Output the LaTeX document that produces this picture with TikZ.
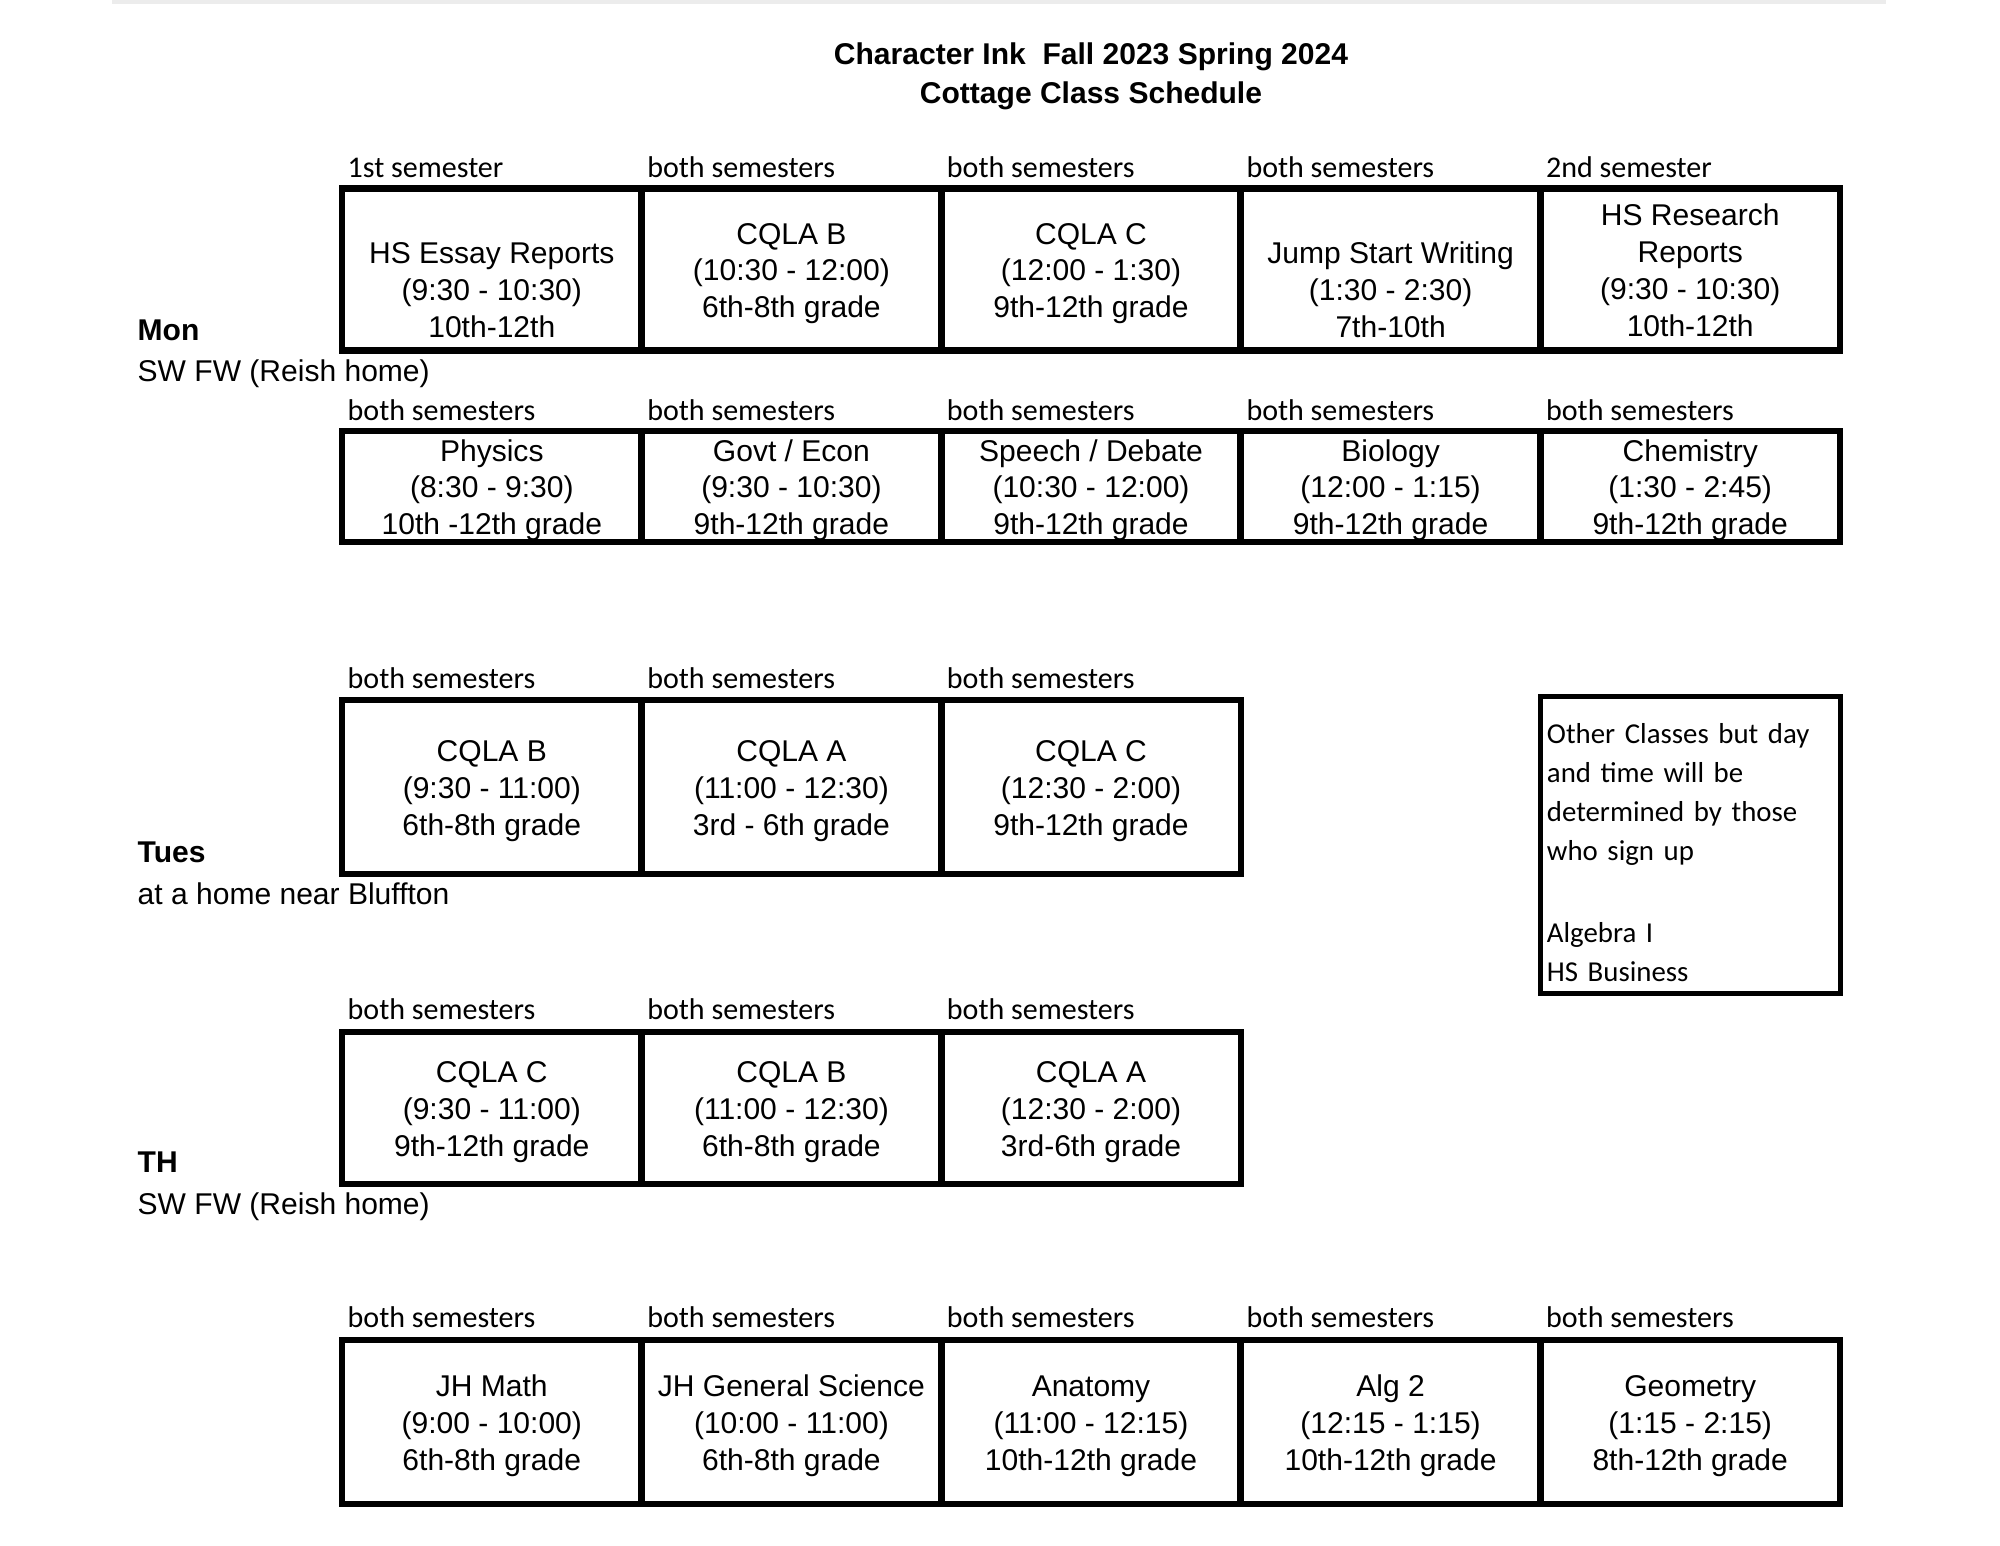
\documentclass[tikz,border=0pt]{standalone}
\usepackage{fontspec}
\setmainfont{Liberation Sans}
\newfontfamily\calib{Carlito}
\newcommand{\classtext}[3]{\rule{0pt}{8.3pt}#1\\#2\\#3}

\begin{document}
\begin{tikzpicture}[x=0.01cm,y=-0.01cm,
  cell/.style={draw=black,line width=1.85pt,rectangle,minimum width=2.996cm,inner sep=0pt,align=center,font=\fontsize{8.54}{10.5}\selectfont},
  rowa/.style={cell,minimum height=1.62cm},
  rowb/.style={cell,minimum height=1.11cm},
  rowtue/.style={cell,minimum height=1.74cm},
  rowthu/.style={cell,minimum height=1.52cm},
  rowext/.style={cell,minimum height=1.64cm},
  sem/.style={anchor=base west,inner sep=0pt,font=\calib\fontsize{8.54}{10.5}\selectfont},
  day/.style={anchor=base west,inner sep=0pt,font=\bfseries\fontsize{8.54}{10.5}\selectfont},
  place/.style={anchor=base west,inner sep=0pt,font=\fontsize{8.54}{10.5}\selectfont},
  heading/.style={anchor=base,inner sep=0pt,font=\bfseries\fontsize{8.54}{10.5}\selectfont}]
\useasboundingbox (0,0) rectangle (2000,1545);
\draw[gray!15,line width=1.4pt] (112,2) -- (1886,2);

\node[heading] (title1) at (1091,64) {Character Ink\ \ Fall 2023 Spring 2024};
\node[heading] (title2) at (1091,103) {Cottage Class Schedule};

\node[day] (mon) at (137,340) {Mon};
\node[place] (monplace) at (137,381) {SW FW (Reish home)};
\node[day] (tue) at (137,862) {Tues};
\node[place] (tueplace) at (137,904) {at a home near Bluffton};
\node[day] (thu) at (137,1172) {TH};
\node[place] (thuplace) at (137,1214) {SW FW (Reish home)};

\node[sem] (sema1) at (347,177) {1st semester};
\node[sem] (sema2) at (646.6,177) {both semesters};
\node[sem] (sema3) at (946.2,177) {both semesters};
\node[sem] (sema4) at (1245.8,177) {both semesters};
\node[sem] (sema5) at (1545.4,177) {2nd semester};
\node[rowa] (mona1) at (491.8,269.5) {\strut\\HS Essay Reports\\(9:30 - 10:30)\\10th-12th};
\node[rowa] (mona2) at (791.4,269.5) {\classtext{CQLA B}{(10:30 - 12:00)}{6th-8th grade}};
\node[rowa] (mona3) at (1091,269.5) {\classtext{CQLA C}{(12:00 - 1:30)}{9th-12th grade}};
\node[rowa] (mona4) at (1390.6,269.5) {\strut\\Jump Start Writing\\(1:30 - 2:30)\\7th-10th};
\node[rowa] (mona5) at (1690.2,269.5) {\rule{0pt}{6.8pt}HS Research\\Reports\\(9:30 - 10:30)\\10th-12th};

\node[sem] (semb1) at (347,420) {both semesters};
\node[sem] (semb2) at (646.6,420) {both semesters};
\node[sem] (semb3) at (946.2,420) {both semesters};
\node[sem] (semb4) at (1245.8,420) {both semesters};
\node[sem] (semb5) at (1545.4,420) {both semesters};
\node[rowb] (monb1) at (491.8,486.5) {\classtext{Physics}{(8:30 - 9:30)}{10th -12th grade}};
\node[rowb] (monb2) at (791.4,486.5) {\classtext{Govt / Econ}{(9:30 - 10:30)}{9th-12th grade}};
\node[rowb] (monb3) at (1091,486.5) {\classtext{Speech / Debate}{(10:30 - 12:00)}{9th-12th grade}};
\node[rowb] (monb4) at (1390.6,486.5) {\classtext{Biology}{(12:00 - 1:15)}{9th-12th grade}};
\node[rowb] (monb5) at (1690.2,486.5) {\classtext{Chemistry}{(1:30 - 2:45)}{9th-12th grade}};

\node[sem] (semt1) at (347,688) {both semesters};
\node[sem] (semt2) at (646.6,688) {both semesters};
\node[sem] (semt3) at (946.2,688) {both semesters};
\node[rowtue] (tue1) at (491.8,787) {\classtext{CQLA B}{(9:30 - 11:00)}{6th-8th grade}};
\node[rowtue] (tue2) at (791.4,787) {\classtext{CQLA A}{(11:00 - 12:30)}{3rd - 6th grade}};
\node[rowtue] (tue3) at (1091,787) {\classtext{CQLA C}{(12:30 - 2:00)}{9th-12th grade}};

\node[draw=black,line width=1.42pt,rectangle,minimum height=2.92cm,inner xsep=0.6mm,text width=2.87cm,align=left,font=\calib\fontsize{8.2}{11.1}\selectfont] (other) at (1690.5,845) {\rule{0pt}{10pt}Other Classes but day\\and time will be\\determined by those\\who sign up\\[1pt]~\\Algebra I\\HS Business};

\node[sem] (semh1) at (347,1019) {both semesters};
\node[sem] (semh2) at (646.6,1019) {both semesters};
\node[sem] (semh3) at (946.2,1019) {both semesters};
\node[rowthu] (thu1) at (491.8,1108) {\classtext{CQLA C}{(9:30 - 11:00)}{9th-12th grade}};
\node[rowthu] (thu2) at (791.4,1108) {\classtext{CQLA B}{(11:00 - 12:30)}{6th-8th grade}};
\node[rowthu] (thu3) at (1091,1108) {\classtext{CQLA A}{(12:30 - 2:00)}{3rd-6th grade}};

\node[sem] (seme1) at (347,1327) {both semesters};
\node[sem] (seme2) at (646.6,1327) {both semesters};
\node[sem] (seme3) at (946.2,1327) {both semesters};
\node[sem] (seme4) at (1245.8,1327) {both semesters};
\node[sem] (seme5) at (1545.4,1327) {both semesters};
\node[rowext] (ext1) at (491.8,1422) {\classtext{JH Math}{(9:00 - 10:00)}{6th-8th grade}};
\node[rowext] (ext2) at (791.4,1422) {\classtext{JH General Science}{(10:00 - 11:00)}{6th-8th grade}};
\node[rowext] (ext3) at (1091,1422) {\classtext{Anatomy}{(11:00 - 12:15)}{10th-12th grade}};
\node[rowext] (ext4) at (1390.6,1422) {\classtext{Alg 2}{(12:15 - 1:15)}{10th-12th grade}};
\node[rowext] (ext5) at (1690.2,1422) {\classtext{Geometry}{(1:15 - 2:15)}{8th-12th grade}};
\end{tikzpicture}
\end{document}
